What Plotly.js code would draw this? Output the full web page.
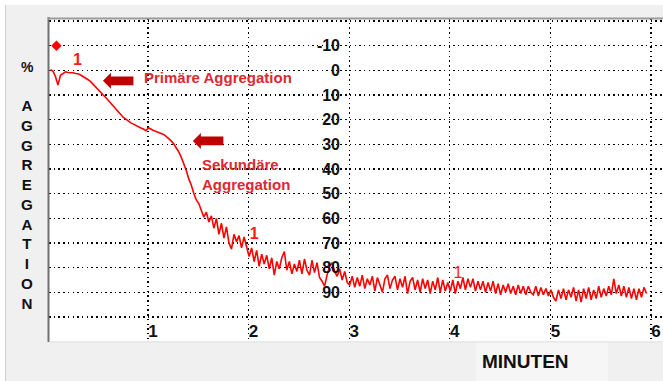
<!DOCTYPE html>
<html><head><meta charset="utf-8">
<script src="https://cdn.plot.ly/plotly-3.0.1.min.js"></script>
<style>html,body{margin:0;padding:0;background:#fff}#chart{width:663px;height:381px}</style>
</head><body><div id="chart"></div>
<script>
// ---- data ----
const sampleStart = 0.03;   // minutes of first sample
const sampleStep = 0.025;   // minutes between samples
const aggregation = [
 -0.3, 0.3, 2.5, 6.0, 2.0, 1.2, 0.6, 0.9, 0.8, 1.0,
 1.3, 1.4, 1.9, 2.5, 3.0, 3.8, 4.6, 5.6, 6.6, 7.8,
 8.8, 10.0, 11.0, 12.2, 13.3, 14.5, 15.6, 16.8, 18.0, 19.1,
 19.8, 20.6, 21.3, 21.8, 22.4, 22.9, 23.4, 23.8, 24.5, 23.3,
 24.0, 24.4, 24.8, 25.1, 25.6, 26.0, 26.8, 27.6, 28.6, 29.8,
 31.2, 33.0, 35.2, 37.8, 40.5, 44.0, 46.5, 49.8, 52.5, 54.0,
 56.5, 59.5, 57.5, 61.5, 59.0, 64.0, 60.0, 66.5, 62.0, 68.0,
 63.5, 70.0, 72.5, 66.5, 69.5, 67.0, 72.0, 67.5, 71.5, 75.5,
 72.0, 77.5, 73.0, 79.5, 74.5, 78.5, 75.0, 80.5, 76.0, 83.0,
 77.5, 80.5, 76.0, 73.5, 81.0, 77.5, 82.5, 78.5, 81.5, 77.0,
 82.5, 76.5, 81.0, 83.0, 77.0, 82.0, 78.0, 84.0, 85.5, 87.5,
 83.0, 79.5, 78.0, 81.5, 83.5, 80.5, 85.0, 81.5, 86.0, 87.0,
 83.5, 88.0, 84.0, 87.5, 83.0, 88.5, 84.5, 87.0, 83.5, 89.5,
 84.0, 87.5, 90.0, 84.5, 83.0, 88.5, 85.0, 83.5, 89.0, 84.5,
 88.0, 83.5, 90.5, 85.5, 84.0, 89.0, 85.0, 90.0, 84.5, 88.5,
 85.0, 90.5, 85.5, 89.0, 84.0, 90.0, 85.0, 89.5, 86.0, 89.5,
 85.0, 90.5, 85.5, 88.5, 84.0, 89.0, 84.5, 88.0, 84.5, 89.5,
 85.5, 89.0, 85.5, 90.0, 86.0, 89.5, 85.5, 90.5, 86.5, 91.0,
 87.0, 90.0, 86.5, 90.5, 87.5, 91.0, 87.0, 90.5, 87.5, 91.0,
 87.5, 90.0, 91.0, 87.5, 91.5, 88.0, 91.0, 88.5, 91.5, 89.0,
 92.0, 93.5, 89.0, 92.5, 88.5, 93.0, 89.0, 92.0, 88.0, 93.5,
 89.0, 94.0, 88.5, 92.5, 88.0, 93.0, 89.0, 92.5, 87.5, 92.0,
 88.5, 91.5, 87.5, 91.0, 84.5, 90.5, 87.0, 91.5, 87.5, 92.0,
 88.0, 92.5, 88.5, 93.0, 88.5, 92.0, 88.0, 90.5
];
const xTickVals = [1, 2, 3, 4, 5, 6];
const xTickText = ['1', '2', '3', '4', '5', '6'];
const yTickVals = [-20, -10, 0, 10, 20, 30, 40, 50, 60, 70, 80, 90, 100];
const yTickText = ['', '-10', '0', '10', '20', '30', '40', '50', '60', '70', '80', '90', ''];
const startMarkerX = [0.09];
const startMarkerY = [-10];
const eventX = [0.30, 2.055, 4.08];
const eventY = [-3.6, 66.7, 82.7];
const eventText = ['<b>1</b>', '<b>1</b>', '1'];
const phaseText = ['Primäre Aggregation', 'Sekundäre<br>Aggregation'];
const phaseX = [0.945, 1.512];
const phaseY = [2.8, 42.2];
const arrowTipX = [0.552, 1.446];
const arrowTipY = [4.25, 28.6];
const yTitleLetters = ['A','G','G','R','E','G','A','T','I','O','N'];
const yTitleUnit = '%';
const xTitle = 'MINUTEN';

// ---- geometry helpers (layout decoration only) ----
const M = {l: 49, t: 18, w: 614, h: 323};
const xp = px => (px - M.l) / M.w;
const yp = py => 1 - (py - M.t) / M.h;
const pxPerMin = 100.6, pxPerPct = 2.467;
const FONT = 'Liberation Sans, Arial, sans-serif';

function arrowPath(tx, ty) {
  const head = 8 / pxPerMin, len = 30.5 / pxPerMin;
  const hh = 8 / pxPerPct, bh = 4.4 / pxPerPct;
  return `M${tx},${ty} L${tx+head},${ty-hh} L${tx+head},${ty-bh} L${tx+len},${ty-bh} ` +
         `L${tx+len},${ty+bh} L${tx+head},${ty+bh} L${tx+head},${ty+hh} Z`;
}

const traces = [
  {type: 'scatter', mode: 'lines', x0: sampleStart, dx: sampleStep, y: aggregation,
   line: {color: '#ff0000', width: 1.6}, hoverinfo: 'skip'},
  {type: 'scatter', mode: 'markers', x: startMarkerX, y: startMarkerY,
   marker: {symbol: 'diamond', size: 8, color: '#ff0000'}, hoverinfo: 'skip'},
  {type: 'scatter', mode: 'text', x: eventX, y: eventY, text: eventText,
   textfont: {family: FONT, size: 16, color: '#ff1a1a'}, textposition: 'middle center', hoverinfo: 'skip'}
];

const shapes = [
  {type: 'rect', xref: 'paper', yref: 'paper', x0: xp(5), x1: xp(663), y0: yp(381), y1: yp(5),
   fillcolor: '#f0f0f0', line: {width: 0}, layer: 'below'},
  {type: 'line', xref: 'paper', yref: 'paper', x0: xp(5.5), x1: xp(5.5), y0: yp(381), y1: yp(5),
   line: {color: '#cfcfcf', width: 1}, layer: 'below'},
  {type: 'rect', xref: 'paper', yref: 'paper', x0: 0, x1: 1, y0: 0, y1: 1,
   fillcolor: '#ffffff', line: {width: 0}, layer: 'below'},
  {type: 'rect', xref: 'paper', yref: 'paper', x0: xp(476), x1: xp(608), y0: yp(381), y1: yp(342),
   fillcolor: '#f6f6f6', line: {width: 0}, layer: 'below'},
  {type: 'line', xref: 'paper', yref: 'paper', x0: xp(48.5), x1: xp(48.5), y0: yp(342), y1: yp(17),
   line: {color: '#707070', width: 2}},
  {type: 'line', xref: 'paper', yref: 'paper', x0: xp(48), x1: xp(663), y0: yp(18.5), y1: yp(18.5),
   line: {color: '#9a9a9a', width: 2}},
  {type: 'line', xref: 'paper', yref: 'paper', x0: xp(49), x1: xp(663), y0: yp(342), y1: yp(342),
   line: {color: '#e2e2e2', width: 1}}
];
arrowTipX.forEach((tx, i) => shapes.push({type: 'path', xref: 'x', yref: 'y',
  path: arrowPath(tx, arrowTipY[i]), fillcolor: '#c00000', line: {width: 0}}));

const annotations = [
  {xref: 'x', yref: 'y', x: phaseX[0], y: phaseY[0], text: phaseText[0], showarrow: false,
   xanchor: 'left', yanchor: 'middle', align: 'left',
   font: {family: FONT, size: 15, color: '#dc2832', weight: 'bold'}},
  {xref: 'x', yref: 'y', x: phaseX[1], y: phaseY[1], text: phaseText[1], showarrow: false,
   xanchor: 'left', yanchor: 'middle', align: 'left',
   font: {family: FONT, size: 15, color: '#dc2832', weight: 'bold'}},
  {xref: 'paper', yref: 'paper', x: xp(27), y: yp(67), text: yTitleUnit, showarrow: false,
   xanchor: 'center', yanchor: 'middle', font: {family: FONT, size: 14, color: '#111', weight: 'bold'}},
  {xref: 'paper', yref: 'paper', x: xp(27), y: yp(204), text: yTitleLetters.join('<br>'), showarrow: false,
   xanchor: 'center', yanchor: 'middle', align: 'center',
   font: {family: FONT, size: 15.2, color: '#111', weight: 'bold'}},
  {xref: 'paper', yref: 'paper', x: xp(525), y: yp(361), text: xTitle, showarrow: false,
   xanchor: 'center', yanchor: 'middle', font: {family: FONT, size: 19, color: '#111', weight: 'bold'}}
];

const layout = {
  width: 663, height: 381,
  margin: {l: M.l, r: 0, t: M.t, b: 381 - M.t - M.h, pad: 0},
  paper_bgcolor: '#ffffff', plot_bgcolor: '#ffffff',
  showlegend: false, hovermode: false,
  xaxis: {range: [0.016, 6.119], tickvals: xTickVals, ticktext: xTickText,
    showgrid: true, gridcolor: '#000000', gridwidth: 1.3, griddash: '1.5px,3.2px',
    zeroline: false, showline: false, ticks: '',
    tickfont: {family: FONT, size: 17, color: '#111', weight: 'bold'},
    ticklabelstandoff: -22, ticklabelshift: 5},
  yaxis: {range: [109.73, -21.22], tickvals: yTickVals, ticktext: yTickText,
    anchor: 'free', position: xp(349), side: 'left',
    showgrid: true, gridcolor: '#000000', gridwidth: 1.3, griddash: '1.5px,3.2px',
    zeroline: false, showline: false, ticks: '',
    tickfont: {family: FONT, size: 16, color: '#111', weight: 'bold'},
    ticklabelstandoff: 9},
  shapes: shapes,
  annotations: annotations
};

Plotly.newPlot('chart', traces, layout, {staticPlot: true, displayModeBar: false});
</script>
</body></html>
